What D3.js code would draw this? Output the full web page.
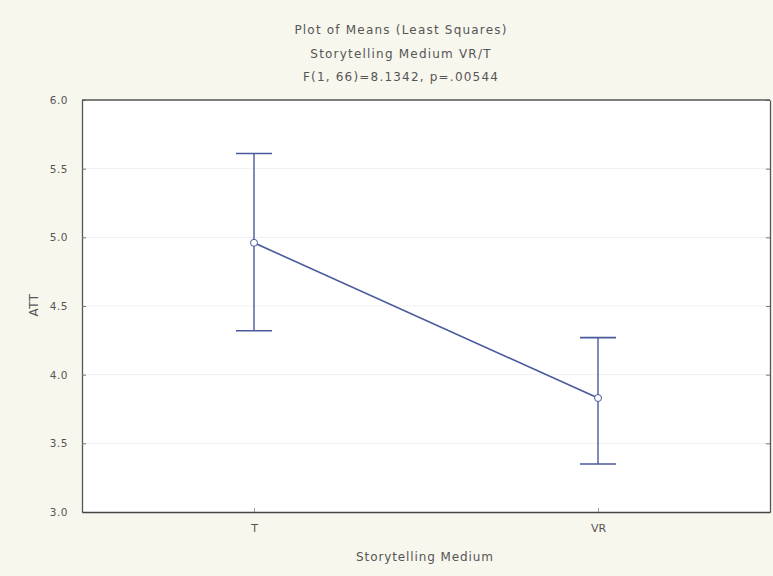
<!DOCTYPE html>
<html><head><meta charset="utf-8">
<script src="https://cdn.jsdelivr.net/npm/d3@7"></script>
<style>
html,body{margin:0;padding:0;background:#f8f7ee;}
svg{display:block;}
</style></head>
<body>
<script>
const categories = ["T", "VR"];
const means = [4.96, 3.83];
const upper = [5.61, 4.27];
const lower = [4.32, 3.35];
const yTicks = [3.0, 3.5, 4.0, 4.5, 5.0, 5.5, 6.0];
const titleLines = ["Plot of Means (Least Squares)", "Storytelling Medium VR/T", "F(1, 66)=8.1342, p=.00544"];
const xLabel = "Storytelling Medium";
const yLabel = "ATT";

const W = 773, H = 576;
const m = {left: 82, right: 3, top: 100, bottom: 64};
const svg = d3.select("body").append("svg").attr("width", W).attr("height", H);
svg.append("rect").attr("width", W).attr("height", H).attr("fill", "#f8f7ee");

const x = d3.scalePoint().domain(categories).range([m.left, W - m.right]).padding(0.5);
const y = d3.scaleLinear().domain([3, 6]).range([H - m.bottom, m.top]);

const g = svg.append("g");
g.append("rect").attr("x", m.left).attr("y", m.top)
  .attr("width", W - m.right - m.left).attr("height", H - m.bottom - m.top)
  .attr("fill", "#ffffff");

// faint gridlines
g.selectAll(".grid").data(yTicks.slice(1, -1)).join("line")
  .attr("x1", m.left).attr("x2", W - m.right)
  .attr("y1", d => y(d)).attr("y2", d => y(d))
  .attr("stroke", "#f0f0f0").attr("stroke-width", 1);

const font = "DejaVu Sans, sans-serif";

// left axis
const yAxis = d3.axisLeft(y).tickValues(yTicks).tickFormat(d3.format(".1f")).tickSizeInner(-4).tickSizeOuter(0).tickPadding(14);
const ya = svg.append("g").attr("transform", `translate(${m.left},0)`).call(yAxis);
ya.select(".domain").attr("stroke", "#555").attr("stroke-width", 1.3);
ya.selectAll(".tick line").attr("stroke", "#777");
ya.selectAll("text").attr("fill", "#555").style("font-family", font).style("font-size", "10.5px").style("letter-spacing", "0.5px");

// right axis
const yAxisR = d3.axisRight(y).tickValues(yTicks).tickFormat("").tickSizeInner(-4).tickSizeOuter(0);
const yr = svg.append("g").attr("transform", `translate(${W - m.right},0)`).call(yAxisR);
yr.select(".domain").attr("stroke", "#555").attr("stroke-width", 1.3);
yr.selectAll(".tick line").attr("stroke", "#777");

// bottom axis
const xAxis = d3.axisBottom(x).tickSizeInner(-4).tickSizeOuter(0).tickPadding(12);
const xa = svg.append("g").attr("transform", `translate(0,${H - m.bottom})`).call(xAxis);
xa.select(".domain").attr("stroke", "#444").attr("stroke-width", 1.3);
xa.selectAll(".tick line").attr("stroke", "#999");
xa.selectAll("text").attr("fill", "#555").style("font-family", font).style("font-size", "11px");

// top border
svg.append("line").attr("x1", m.left).attr("x2", W - m.right).attr("y1", m.top).attr("y2", m.top)
  .attr("stroke", "#555").attr("stroke-width", 1.3);

const data = categories.map((c, i) => ({c, mean: means[i], hi: upper[i], lo: lower[i]}));
const blue = "#4a5a9c";
const capW = 18;

// error bars
const eb = svg.append("g");
eb.selectAll(".v").data(data).join("line")
  .attr("x1", d => x(d.c)).attr("x2", d => x(d.c))
  .attr("y1", d => y(d.hi)).attr("y2", d => y(d.lo))
  .attr("stroke", blue).attr("stroke-width", 1.4);
eb.selectAll(".cu").data(data).join("line")
  .attr("x1", d => x(d.c) - capW).attr("x2", d => x(d.c) + capW)
  .attr("y1", d => y(d.hi)).attr("y2", d => y(d.hi))
  .attr("stroke", blue).attr("stroke-width", 1.6);
eb.selectAll(".cl").data(data).join("line")
  .attr("x1", d => x(d.c) - capW).attr("x2", d => x(d.c) + capW)
  .attr("y1", d => y(d.lo)).attr("y2", d => y(d.lo))
  .attr("stroke", blue).attr("stroke-width", 1.6);

// mean line
svg.append("path").datum(data)
  .attr("d", d3.line().x(d => x(d.c)).y(d => y(d.mean)))
  .attr("fill", "none").attr("stroke", blue).attr("stroke-width", 1.6);

svg.selectAll(".pt").data(data).join("circle")
  .attr("cx", d => x(d.c)).attr("cy", d => y(d.mean)).attr("r", 3.5)
  .attr("fill", "#fff").attr("stroke", blue).attr("stroke-width", 1);

// titles
svg.selectAll(".title").data(titleLines).join("text")
  .attr("x", 401).attr("y", (d, i) => 34 + i * 23.5)
  .attr("text-anchor", "middle").attr("fill", "#555")
  .style("font-family", font).style("font-size", "12px").style("letter-spacing", "1.2px")
  .text(d => d);

svg.append("text").attr("x", 425).attr("y", 561).attr("text-anchor", "middle")
  .attr("fill", "#555").style("font-family", font).style("font-size", "12px").style("letter-spacing", "0.9px")
  .text(xLabel);

svg.append("text").attr("transform", `translate(38,305) rotate(-90)`)
  .attr("text-anchor", "middle").attr("fill", "#555")
  .style("font-family", font).style("font-size", "12px").style("letter-spacing", "0.5px")
  .text(yLabel);
</script>
</body></html>
